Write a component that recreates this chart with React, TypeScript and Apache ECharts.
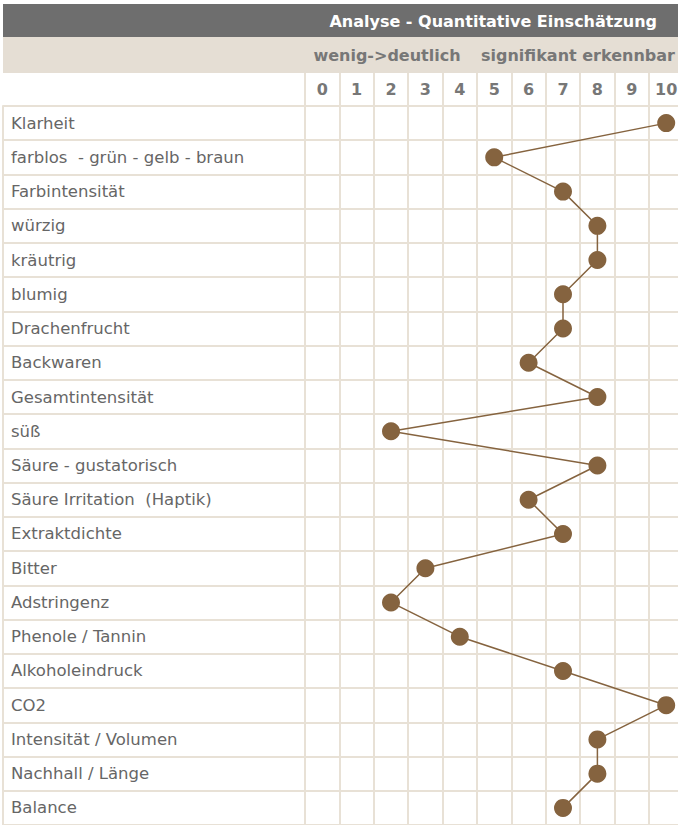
import React, { useEffect, useRef } from "react";
import * as echarts from "echarts";

const title = "Analyse - Quantitative Einschätzung";
const groupLabels = ["wenig->deutlich", "signifikant erkennbar"];
const scaleTicks = ["0", "1", "2", "3", "4", "5", "6", "7", "8", "9", "10"];
const attributes = [
  "Klarheit",
  "farblos  - grün - gelb - braun",
  "Farbintensität",
  "würzig",
  "kräutrig",
  "blumig",
  "Drachenfrucht",
  "Backwaren",
  "Gesamtintensität",
  "süß",
  "Säure - gustatorisch",
  "Säure Irritation  (Haptik)",
  "Extraktdichte",
  "Bitter",
  "Adstringenz",
  "Phenole / Tannin",
  "Alkoholeindruck",
  "CO2",
  "Intensität / Volumen",
  "Nachhall / Länge",
  "Balance",
];
const scores = [10, 5, 7, 8, 8, 7, 7, 6, 8, 2, 8, 6, 7, 3, 2, 4, 7, 10, 8, 8, 7];

const GRID_COLOR = "#e8e1d6";
const BROWN = "#85633f";
const FONT = "DejaVu Sans";

export default function App() {
  const ref = useRef<HTMLDivElement>(null);
  useEffect(() => {
    if (!ref.current) return;
    const chart = echarts.init(ref.current, null, { renderer: "svg" });
    const top = 106;
    const rowH = 34.5;
    const colW = 34.4;
    const labelLeft = 3;
    const colLeft = 305;
    const h = rowH * attributes.length;
    chart.setOption({
      animation: false,
      backgroundColor: "#ffffff",
      textStyle: { fontFamily: FONT },
      graphic: [
        { type: "rect", shape: { x: 3, y: 4, width: 700, height: 33 }, style: { fill: "#6e6e6e" } },
        { type: "rect", shape: { x: 3, y: 37, width: 700, height: 36 }, style: { fill: "#e5ded4" } },
        {
          type: "text",
          x: 657,
          y: 21,
          style: { text: title, fill: "#ffffff", font: `bold 16px "${FONT}"`, align: "right", verticalAlign: "middle" },
        },
        {
          type: "text",
          x: 387,
          y: 55,
          style: { text: groupLabels[0], fill: "#777777", font: `bold 16px "${FONT}"`, align: "center", verticalAlign: "middle" },
        },
        {
          type: "text",
          x: 578,
          y: 55,
          style: { text: groupLabels[1], fill: "#777777", font: `bold 16px "${FONT}"`, align: "center", verticalAlign: "middle" },
        },
      ],
      grid: [
        { left: labelLeft, top, width: colLeft - labelLeft, height: h },
        { left: colLeft, top, width: colW * scaleTicks.length, height: h },
      ],
      xAxis: [
        { gridIndex: 0, type: "value", show: false, min: 0, max: 1 },
        {
          gridIndex: 1,
          type: "category",
          position: "top",
          data: scaleTicks,
          boundaryGap: true,
          axisLine: { show: true, lineStyle: { color: GRID_COLOR, width: 2 } },
          axisTick: { show: true, length: 33, alignWithLabel: false, lineStyle: { color: GRID_COLOR, width: 2 } },
          axisLabel: { color: "#777777", fontWeight: "bold", fontSize: 16, fontFamily: FONT, margin: 9, interval: 0 },
          splitLine: { show: true, interval: 0, lineStyle: { color: GRID_COLOR, width: 2 } },
        },
      ],
      yAxis: [
        {
          gridIndex: 0,
          type: "category",
          inverse: true,
          data: attributes,
          boundaryGap: true,
          axisLine: { show: true, lineStyle: { color: GRID_COLOR, width: 2 } },
          axisTick: { show: false },
          axisLabel: { inside: true, margin: 8, color: "#666666", fontSize: 16.5, fontFamily: FONT, interval: 0 },
          splitLine: { show: true, interval: 0, lineStyle: { color: GRID_COLOR, width: 2 } },
        },
        {
          gridIndex: 1,
          type: "category",
          inverse: true,
          data: attributes,
          boundaryGap: true,
          axisLine: { show: false },
          axisTick: { show: false },
          axisLabel: { show: false },
          splitLine: { show: true, interval: 0, lineStyle: { color: GRID_COLOR, width: 2 } },
        },
      ],
      series: [
        {
          type: "line",
          xAxisIndex: 1,
          yAxisIndex: 1,
          data: scores.map((v, i) => [v, i]),
          symbol: "circle",
          symbolSize: 18,
          itemStyle: { color: BROWN },
          lineStyle: { color: BROWN, width: 1.5 },
          clip: false,
        },
      ],
    });
    return () => chart.dispose();
  }, []);
  return (
    <div style={{ position: "absolute", left: 0, top: 0, width: 678, height: 825, overflow: "hidden" }}>
      <div ref={ref} style={{ width: 700, height: 825 }} />
    </div>
  );
}
